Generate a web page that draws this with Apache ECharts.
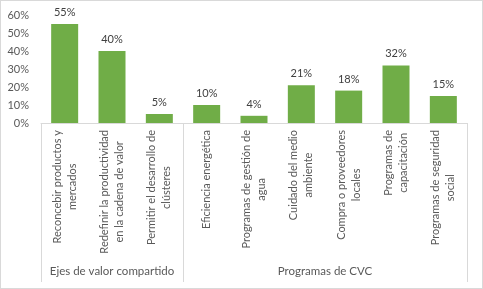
<!DOCTYPE html>
<html>
<head>
<meta charset="utf-8">
<script src="https://cdn.jsdelivr.net/npm/echarts@6/dist/echarts.min.js"></script>
<style>
  html, body { margin: 0; padding: 0; background: #fff; }
  #wrap { position: relative; width: 483px; height: 289px; }
  #chart { width: 483px; height: 289px; }
  #wrap::after {
    content: ""; position: absolute; left: 0; top: 0; right: 0; bottom: 0;
    border: 1px solid #d9d9d9; pointer-events: none;
  }
</style>
</head>
<body>
<div id="wrap"><div id="chart"></div></div>
<script>
const categories = [
  "Reconcebir productos y\nmercados",
  "Redefinir la productividad\nen la cadena de valor",
  "Permitir el desarrollo de\nclústeres",
  "Eficiencia energética",
  "Programas de gestión de\nagua",
  "Cuidado del medio\nambiente",
  "Compra o proveedores\nlocales",
  "Programas de\ncapacitación",
  "Programas de seguridad\nsocial"
]
const values = [55, 40, 5, 10, 4, 21, 18, 32, 15]
const groups = ["Ejes de valor compartido", "Programas de CVC"]
const groupSizes = [3, 6]
const yTicks = [0, 10, 20, 30, 40, 50, 60]

// group boundaries (category index where each group starts) and group centers
let starts = []
let centers = {}
let acc = 0
groupSizes.forEach((n, i) => {
  starts.push(acc)
  centers[acc + n / 2] = groups[i]
  acc += n
})

const font = "Lato, 'Open Sans', sans-serif"
const gray = "#595959"

let myChart = echarts.init(document.getElementById("chart"))
myChart.setOption({
  animation: false,
  grid: { left: 41, right: 16, top: 15, bottom: 166 },
  xAxis: [
    {
      type: "category",
      data: categories,
      axisLine: { lineStyle: { color: "#d9d9d9", width: 1 } },
      axisTick: {
        show: true,
        length: 159,
        interval: (index) => starts.indexOf(index) >= 0,
        lineStyle: { color: "#d9d9d9" },
      },
      axisLabel: {
        interval: 0,
        rotate: 90,
        margin: 7,
        color: gray,
        fontFamily: font,
        fontSize: 11,
        formatter: (v) => v.split("\n").map((l) => "{c|" + l + "}").join("\n"),
        rich: {
          c: { align: "center", color: gray, fontFamily: font, fontSize: 11, lineHeight: 15 },
        },
      },
    },
    {
      type: "value",
      position: "bottom",
      offset: 136,
      min: 0,
      max: acc,
      interval: 1.5,
      axisLine: { show: false },
      axisTick: { show: false },
      splitLine: { show: false },
      axisLabel: {
        margin: 6,
        color: gray,
        fontFamily: font,
        fontSize: 11.5,
        formatter: (v) => centers[v] || "",
      },
    },
  ],
  yAxis: {
    type: "value",
    min: yTicks[0],
    max: yTicks[yTicks.length - 1],
    interval: 10,
    axisLine: { show: false },
    axisTick: { show: false },
    splitLine: { show: false },
    axisLabel: {
      margin: 12,
      color: gray,
      fontFamily: font,
      fontSize: 11,
      formatter: "{value}%",
    },
  },
  series: [
    {
      type: "bar",
      data: values,
      barWidth: 27,
      itemStyle: { color: "#70ad47" },
      label: {
        show: true,
        position: "top",
        distance: 6,
        color: "#404040",
        fontFamily: font,
        fontSize: 11,
        formatter: "{c}%",
      },
    },
  ],
})
</script>
</body>
</html>
